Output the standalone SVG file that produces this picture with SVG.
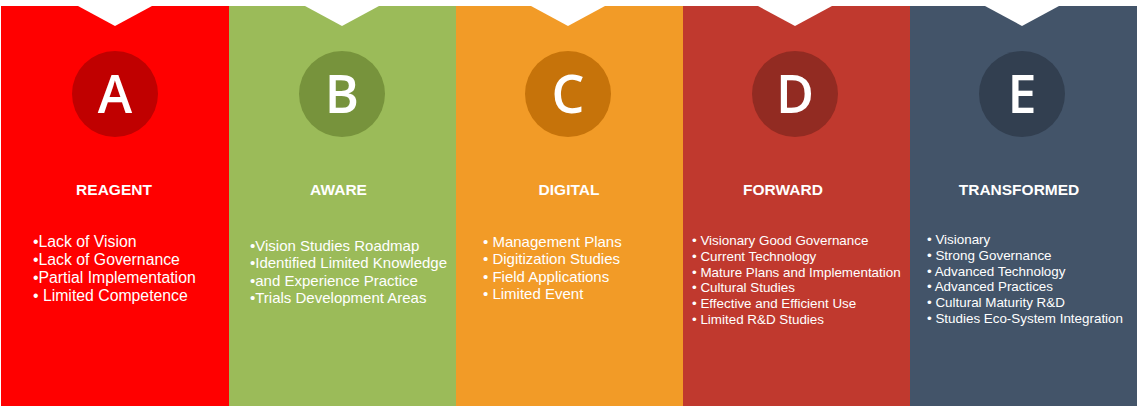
<svg xmlns="http://www.w3.org/2000/svg" width="1139" height="409" viewBox="0 0 1139 409">
<style>
.letter{font-family:"Open Sans","Liberation Sans",sans-serif;font-weight:600;font-size:52px;fill:#fff;text-anchor:middle}
.title{font-family:"Liberation Sans",Arial,sans-serif;font-weight:bold;font-size:15.5px;fill:#fff;text-anchor:middle}
.item{font-family:"Liberation Sans",Arial,sans-serif;font-size:15px;fill:#fff}
.wide{font-size:15.8px}
.small{font-family:"Liberation Sans",Arial,sans-serif;font-size:13.4px;fill:#fff}
.notch{fill:#fff}
</style>
<rect x="0" y="0" width="1139" height="409" fill="#fff"/>
<g id="panel-a">
<rect x="1" y="6" width="228" height="400" fill="#ff0000"/>
<polygon class="notch" points="78,6 152,6 115,26"/>
<circle cx="115" cy="94" r="43" fill="#c00000"/>
<text class="letter" x="115" y="113">A</text>
<text class="title" x="114" y="195">REAGENT</text>
<text class="item wide" x="33" y="247">•Lack of Vision</text>
<text class="item wide" x="33" y="265">•Lack of Governance</text>
<text class="item wide" x="33" y="283">•Partial Implementation</text>
<text class="item wide" x="33" y="301">• Limited Competence</text>
</g>
<g id="panel-b">
<rect x="229" y="6" width="227" height="400" fill="#9bbb59"/>
<polygon class="notch" points="305,6 379,6 342,26"/>
<circle cx="342" cy="94" r="43" fill="#77933c"/>
<text class="letter" x="342" y="113">B</text>
<text class="title" x="338.5" y="195">AWARE</text>
<text class="item" x="250" y="250.5">•Vision Studies Roadmap</text>
<text class="item" x="250" y="268">•Identified Limited Knowledge</text>
<text class="item" x="250" y="285.5">•and Experience Practice</text>
<text class="item" x="250" y="303">•Trials Development Areas</text>
</g>
<g id="panel-c">
<rect x="456" y="6" width="227" height="400" fill="#f29b27"/>
<polygon class="notch" points="531,6 605,6 568,26"/>
<circle cx="568" cy="94" r="43" fill="#c6730a"/>
<text class="letter" x="568" y="113">C</text>
<text class="title" x="569" y="195">DIGITAL</text>
<text class="item" x="483" y="246.5">• Management Plans</text>
<text class="item" x="483" y="264">• Digitization Studies</text>
<text class="item" x="483" y="281.5">• Field Applications</text>
<text class="item" x="483" y="299">• Limited Event</text>
</g>
<g id="panel-d">
<rect x="683" y="6" width="227" height="400" fill="#c0392e"/>
<polygon class="notch" points="758,6 832,6 795,26"/>
<circle cx="795" cy="94" r="43" fill="#922b22"/>
<text class="letter" x="795" y="113">D</text>
<text class="title" x="783" y="195">FORWARD</text>
<text class="small" x="692" y="245">• Visionary Good Governance</text>
<text class="small" x="692" y="260.8">• Current Technology</text>
<text class="small" x="692" y="276.6">• Mature Plans and Implementation</text>
<text class="small" x="692" y="292.4">• Cultural Studies</text>
<text class="small" x="692" y="308.2">• Effective and Efficient Use</text>
<text class="small" x="692" y="324">• Limited R&amp;D Studies</text>
</g>
<g id="panel-e">
<rect x="910" y="6" width="227" height="400" fill="#435469"/>
<polygon class="notch" points="985,6 1059,6 1022,26"/>
<circle cx="1022" cy="94" r="43" fill="#323f50"/>
<text class="letter" x="1022" y="113">E</text>
<text class="title" x="1019" y="195">TRANSFORMED</text>
<text class="small" x="927" y="244">• Visionary</text>
<text class="small" x="927" y="259.8">• Strong Governance</text>
<text class="small" x="927" y="275.6">• Advanced Technology</text>
<text class="small" x="927" y="291.4">• Advanced Practices</text>
<text class="small" x="927" y="307.2">• Cultural Maturity R&amp;D</text>
<text class="small" x="927" y="323">• Studies Eco-System Integration</text>
</g>
<g id="connectors"/>
</svg>
